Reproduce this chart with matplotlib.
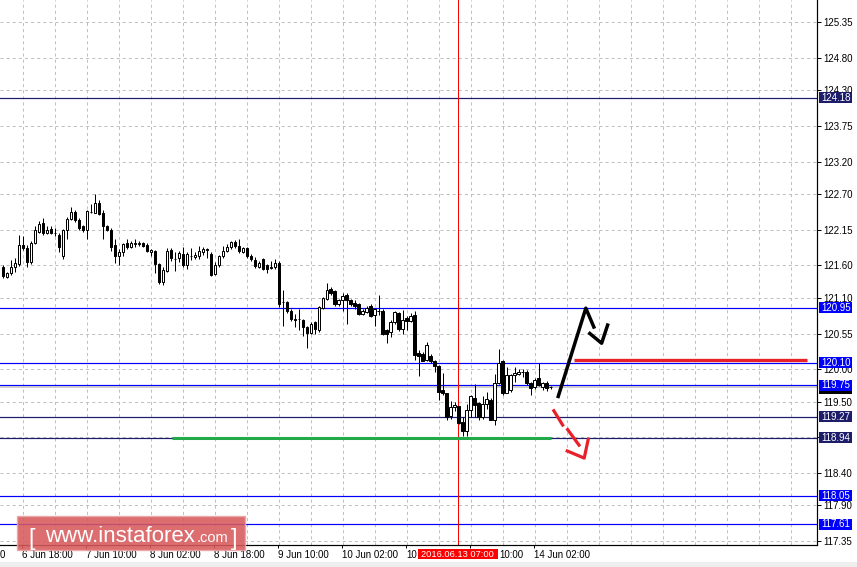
import matplotlib
matplotlib.use("Agg")
import matplotlib.pyplot as plt
from matplotlib.patches import Rectangle
import matplotlib.transforms as mtrans

plt.rcParams['font.family'] = ['Liberation Sans', 'DejaVu Sans']
plt.rcParams['lines.scale_dashes'] = False

# ---------------- data (H1 candles) ----------------
opens = [
    121.57, 121.42, 121.48, 121.58, 121.62, 121.92, 121.87, 121.65, 121.95, 122.12,
    122.25, 122.10, 122.16, 122.10, 122.07, 121.75, 122.15, 122.32, 122.42, 122.30,
    122.20, 122.15, 122.42, 122.41, 122.56, 122.40, 122.20, 122.15, 121.92, 121.75,
    121.80, 121.95, 121.88, 121.93, 121.93, 121.94, 121.92, 121.80, 121.82, 121.62,
    121.35, 121.52, 121.84, 121.70, 121.71, 121.78, 121.60, 121.75, 121.73, 121.74,
    121.80, 121.85, 121.78, 121.46, 121.60, 121.74, 121.82, 121.88, 121.96, 121.90,
    121.81, 121.86, 121.75, 121.69, 121.58, 121.70, 121.60, 121.56, 121.57, 121.64,
    121.03, 121.03, 120.90, 120.78, 120.77, 120.76, 120.65, 120.56, 120.72, 120.60,
    120.95, 121.08, 121.24, 121.20, 121.00, 121.07, 121.14, 121.07, 121.02, 121.00,
    120.85, 120.88, 120.97, 120.83, 120.90, 120.90, 120.60, 120.57, 120.73, 120.86,
    120.62, 120.79, 120.74, 120.83, 120.25, 120.23, 120.14, 120.20, 120.12, 120.05,
    119.68, 119.63, 119.28, 119.41, 119.43, 119.19, 119.04, 119.37, 119.55, 119.48,
    119.26, 119.46, 119.53, 119.21, 119.78, 120.12, 119.64, 119.68, 119.91, 119.92,
    119.95, 119.96, 119.79, 119.72, 119.86, 119.73, 119.78, 119.72]
closes = [
    121.43, 121.48, 121.57, 121.63, 121.91, 121.86, 121.65, 121.95, 122.15, 122.23,
    122.10, 122.15, 122.10, 122.10, 121.88, 122.14, 122.32, 122.42, 122.30, 122.18,
    122.15, 122.43, 122.42, 122.56, 122.39, 122.20, 122.15, 121.88, 121.74, 121.80,
    121.93, 121.88, 121.94, 121.95, 121.95, 121.90, 121.82, 121.84, 121.62, 121.35,
    121.53, 121.82, 121.71, 121.70, 121.79, 121.60, 121.77, 121.75, 121.76, 121.82,
    121.85, 121.83, 121.45, 121.61, 121.74, 121.82, 121.88, 121.96, 121.90, 121.82,
    121.86, 121.74, 121.70, 121.59, 121.63, 121.55, 121.55, 121.58, 121.63, 121.00,
    121.03, 120.90, 120.78, 120.76, 120.77, 120.65, 120.56, 120.70, 120.62, 120.96,
    121.10, 121.22, 121.18, 121.00, 121.06, 121.13, 121.07, 121.00, 120.98, 120.85,
    120.90, 120.95, 120.82, 120.92, 120.90, 120.55, 120.55, 120.73, 120.88, 120.62,
    120.76, 120.75, 120.82, 120.22, 120.20, 120.13, 120.37, 120.13, 120.05, 119.65,
    119.64, 119.26, 119.41, 119.45, 119.17, 119.04, 119.37, 119.58, 119.45, 119.26,
    119.47, 119.54, 119.22, 119.78, 120.10, 119.64, 119.91, 119.91, 119.94, 119.96,
    119.95, 119.78, 119.71, 119.84, 119.76, 119.79, 119.71, 119.72]
highs = [
    121.60, 121.50, 121.68, 121.72, 122.07, 122.05, 121.92, 121.97, 122.20, 122.28,
    122.33, 122.20, 122.20, 122.18, 122.10, 122.16, 122.35, 122.50, 122.45, 122.33,
    122.22, 122.45, 122.55, 122.70, 122.60, 122.45, 122.22, 122.17, 122.00, 121.85,
    121.95, 122.00, 121.98, 122.00, 121.97, 121.96, 121.95, 121.85, 121.84, 121.63,
    121.57, 121.87, 121.86, 121.80, 121.82, 121.88, 121.80, 121.87, 121.80, 121.90,
    121.88, 121.86, 121.80, 121.65, 121.76, 121.90, 121.93, 121.98, 121.99, 122.00,
    121.88, 121.88, 121.77, 121.73, 121.67, 121.71, 121.62, 121.66, 121.70, 121.67,
    121.22, 121.05, 120.93, 120.85, 120.93, 120.78, 120.67, 120.72, 120.74, 120.97,
    121.12, 121.33, 121.27, 121.22, 121.08, 121.17, 121.17, 121.08, 121.06, 121.02,
    120.93, 120.98, 121.00, 120.94, 121.15, 120.92, 120.62, 120.76, 120.90, 120.88,
    120.91, 120.82, 120.87, 120.90, 120.30, 120.27, 120.42, 120.23, 120.14, 120.06,
    119.94, 119.64, 119.51, 119.50, 119.44, 119.26, 119.46, 119.60, 119.77, 119.50,
    119.58, 119.65, 119.55, 119.93, 120.31, 120.14, 120.03, 119.93, 120.03, 120.00,
    120.00, 119.98, 119.81, 119.87, 120.10, 119.81, 119.82, 119.74]
lows = [
    121.40, 121.40, 121.45, 121.50, 121.59, 121.83, 121.58, 121.62, 121.93, 122.10,
    122.07, 122.08, 122.08, 122.06, 121.80, 121.70, 122.00, 122.30, 122.27, 122.15,
    122.12, 122.00, 122.40, 122.40, 122.37, 122.00, 122.13, 121.82, 121.63, 121.60,
    121.75, 121.85, 121.86, 121.88, 121.90, 121.88, 121.80, 121.75, 121.48, 121.32,
    121.30, 121.50, 121.66, 121.52, 121.65, 121.57, 121.55, 121.68, 121.70, 121.70,
    121.76, 121.72, 121.43, 121.45, 121.58, 121.72, 121.80, 121.85, 121.87, 121.79,
    121.79, 121.72, 121.67, 121.56, 121.56, 121.53, 121.48, 121.54, 121.55, 120.96,
    120.67, 120.87, 120.75, 120.65, 120.60, 120.51, 120.32, 120.54, 120.55, 120.58,
    120.93, 121.07, 121.15, 120.98, 120.97, 120.90, 120.70, 120.98, 120.92, 120.83,
    120.83, 120.86, 120.80, 120.67, 120.83, 120.53, 120.40, 120.49, 120.70, 120.59,
    120.54, 120.60, 120.72, 120.14, 119.90, 120.12, 120.13, 120.10, 119.96, 119.53,
    119.60, 119.21, 119.23, 119.35, 119.16, 118.97, 118.97, 119.26, 119.27, 119.21,
    119.24, 119.38, 119.21, 119.14, 119.77, 119.60, 119.63, 119.65, 119.81, 119.91,
    119.88, 119.76, 119.60, 119.70, 119.74, 119.68, 119.67, 119.69]

price_ticks = [125.35, 124.80, 124.30, 123.75, 123.20, 122.70, 122.15, 121.60,
               121.10, 120.55, 120.00, 119.50, 118.95, 118.40, 117.90, 117.35]
# tick label fully hidden by the 118.94 level box in the reference is left blank
price_tick_labels = ['125.35', '124.80', '124.30', '123.75', '123.20', '122.70',
                     '122.15', '121.60', '121.10', '120.55', '120.00', '119.50',
                     '', '118.40', '117.90', '117.35']
time_tick_bars = [5, 21, 37, 53, 69, 85, 101, 117, 133]
# visible parts of the time labels (the rest is hidden by the red cursor box)
time_tick_labels = ['6 Jun 18:00', '7 Jun 10:00', '8 Jun 02:00', '8 Jun 18:00',
                    '9 Jun 10:00', '10 Jun 02:00', '10', '10:00', '14 Jun 02:00']
time_label_shift_px = [0, 0, 0, 0, 0, 0, 0, 29, 0]
edge_label = '0'

levels = [124.18, 120.95, 120.10, 119.75, 119.27, 118.94, 118.05, 117.61]
level_colors = ['#1c1c6a', '#0000ff', '#0000ff', '#0000ff', '#1c1c6a', '#1c1c6a',
                '#0000ff', '#0000ff']
bid_price = 119.72

marker_bar = 113.8
marker_label = '2016.06.13 07:00'

support_x = [42.3, 137.1]
support_y = [118.94, 118.94]
resist_x = [142.8, 201.0]
resist_y = [120.14, 120.14]
up_arrow_x = [138.9, 145.8, 147.8]
up_arrow_y = [119.58, 120.94, 120.65]
up_head_x = [146.8, 149.75, 151.25]
up_head_y = [120.55, 120.40, 120.68]
dn_seg1_x = [137.8, 140.0]
dn_seg1_y = [119.36, 119.14]
dn_seg2_x = [141.25, 144.1]
dn_seg2_y = [119.07, 118.83]
dn_head_x = [141.15, 145.4, 146.4]
dn_head_y = [118.74, 118.63, 118.92]

# ---------------- figure ----------------
W, H = 857, 567
fig = plt.figure(figsize=(W / 100, H / 100), dpi=100)
ax = fig.add_axes([0, 22 / H, 817 / W, 545 / H])
x_lo, x_hi = -0.675, 203.6
y_lo, y_hi = 117.291, 125.689
ax.set_xlim(x_lo, x_hi)
ax.set_ylim(y_lo, y_hi)

px = 0.72  # one pixel in points
FS = 7
grid_kw = dict(color='#c0c0c0', lw=px, linestyle=(0, (2.2, 2.2)), zorder=0.5)
for b in range(5, 204, 8):
    ax.axvline(b, **grid_kw)
for p in price_ticks:
    ax.axhline(p, **grid_kw)

# levels
for lv, c in zip(levels, level_colors):
    ax.axhline(lv, color=c, lw=px * 1.2, zorder=1)
ax.axhline(bid_price, color='#c0c0c0', lw=px * 1.5, zorder=1)
ax.axvline(marker_bar, color='#ff0000', lw=px, zorder=1)

# candles
idx = list(range(len(opens)))
ax.vlines(idx, lows, highs, color='black', lw=px, zorder=2)
bottoms = [min(o, c) for o, c in zip(opens, closes)]
heights = [abs(c - o) for o, c in zip(opens, closes)]
facec = ['white' if c > o else 'black' for o, c in zip(opens, closes)]
ax.bar(idx, heights, bottom=bottoms, width=0.58, color=facec, edgecolor='black',
       linewidth=px, zorder=3)

# drawn annotations
ax.plot(support_x, support_y, color='#22aa4a', lw=2.2, solid_capstyle='butt', zorder=4)
ax.plot(resist_x, resist_y, color='#e8202a', lw=2.4, solid_capstyle='butt', zorder=4)
ax.plot(up_arrow_x, up_arrow_y, color='black', lw=2.5, zorder=4)
ax.plot(up_head_x, up_head_y, color='black', lw=2.5, zorder=4)
for xs, ys in [(dn_seg1_x, dn_seg1_y), (dn_seg2_x, dn_seg2_y), (dn_head_x, dn_head_y)]:
    ax.plot(xs, ys, color='#e8202a', lw=2.3, zorder=4)

# axes styling
for s in ['left', 'top']:
    ax.spines[s].set_visible(False)
for s in ['right', 'bottom']:
    ax.spines[s].set_linewidth(px * 1.2)
    ax.spines[s].set_color('black')
ax.yaxis.tick_right()
ax.set_yticks(price_ticks)
ax.set_yticklabels(price_tick_labels)
ax.tick_params(axis='y', direction='out', length=3, width=px, pad=1.5,
               labelsize=FS, colors='black')
ax.set_xticks([b - 0.2 for b in time_tick_bars])
ax.set_xticklabels(time_tick_labels)
ax.tick_params(axis='x', direction='out', length=2.2, width=px, pad=1.5,
               labelsize=FS, colors='black')
for t, sh in zip(ax.get_xticklabels(), time_label_shift_px):
    t.set_horizontalalignment('left')
    if sh:
        t.set_transform(t.get_transform() +
                        mtrans.ScaledTranslation(sh / 100, 0, fig.dpi_scale_trans))

xb = mtrans.blended_transform_factory(ax.transData, ax.transAxes)
yb = mtrans.blended_transform_factory(ax.transAxes, ax.transData)

ax.text(0.0, -0.0085, edge_label, transform=ax.transAxes, ha='left', va='top',
        fontsize=FS, clip_on=False)

# red time marker label
ax.add_patch(Rectangle((marker_bar - 10, -0.0265), 20, 0.0195, transform=xb,
                       facecolor='#ff0000', edgecolor='none', clip_on=False, zorder=10))
ax.text(marker_bar, -0.0168, marker_label, transform=xb, ha='center', va='center',
        color='white', fontsize=6.7, clip_on=False, zorder=11)

# right price labels
box_h = 11 / 64.9
ax.add_patch(Rectangle((1.0025, bid_price - box_h / 2 - 0.01), 0.0405, box_h, transform=yb,
                       facecolor='black', edgecolor='none', clip_on=False, zorder=10))
for lv, c in zip(levels, level_colors):
    ax.add_patch(Rectangle((1.0025, lv - box_h / 2), 0.0405, box_h, transform=yb,
                           facecolor=c, edgecolor='none', clip_on=False, zorder=11))
    ax.text(1.0228, lv, f'{lv:.2f}', transform=yb, ha='center', va='center',
            color='white', fontsize=FS, clip_on=False, zorder=12)

# bottom strip
fig.add_artist(Rectangle((0, 0), 1, 5 / H, transform=fig.transFigure,
                         facecolor='#eeeeee', edgecolor='none', zorder=0))

# logo
fig.add_artist(Rectangle((17 / W, (H - 550) / H), 228 / W, 34 / H, transform=fig.transFigure,
                         facecolor='#d85a5c', alpha=0.88, edgecolor='#eaa5a5', lw=1,
                         zorder=20))
base_y = (H - 542) / H
fig.text(28 / W, (H - 545) / H, '[', color='white', fontsize=17, ha='left',
         va='baseline', zorder=21)
fig.text(45 / W, base_y, 'www.instaforex', color='white', fontsize=16, ha='left',
         va='baseline', zorder=21)
fig.text(197 / W, base_y, '.com', color='white', fontsize=10.5, ha='left',
         va='baseline', zorder=21)
fig.text(231 / W, (H - 545) / H, ']', color='white', fontsize=17, ha='left',
         va='baseline', zorder=21)

fig.savefig('out.png', dpi=100)
